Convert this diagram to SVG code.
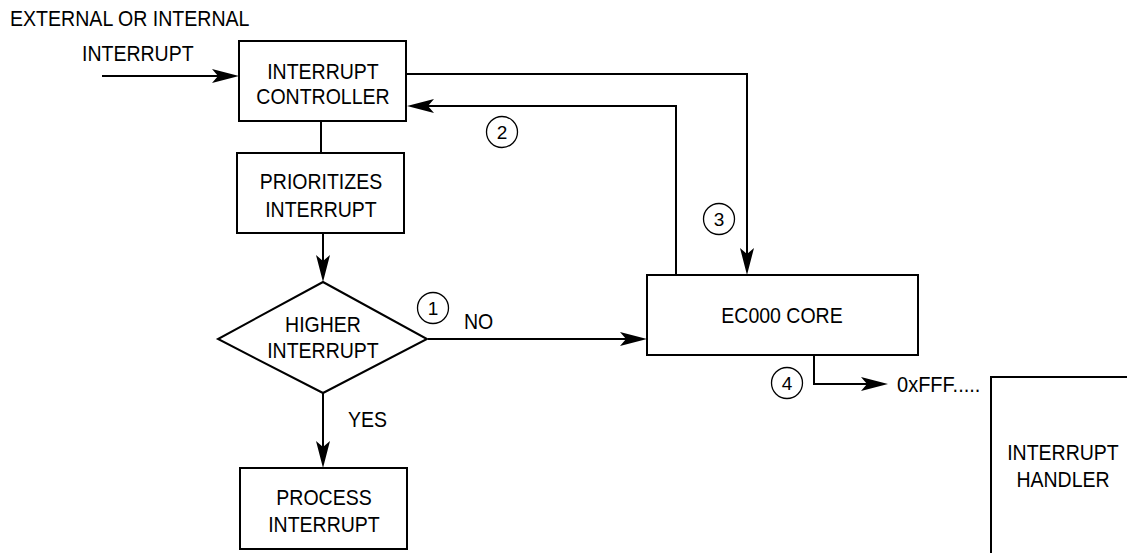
<svg xmlns="http://www.w3.org/2000/svg" width="1127" height="553" viewBox="0 0 1127 553">
<style>
.box{fill:#fff;stroke:#000;stroke-width:2}
.ln{fill:none;stroke:#000;stroke-width:2}
.ah{fill:#000;stroke:none}
.t{font-family:"Liberation Sans",Arial,sans-serif;font-size:22px;fill:#000}
.c{text-anchor:middle}
.cir{fill:none;stroke:#000;stroke-width:1.3}
.n{font-family:"Liberation Sans",Arial,sans-serif;font-size:19px;fill:#000;text-anchor:middle}
</style>
<defs>
<path id="head" d="M0,0 L-27,-7 L-21,0 L-27,7 Z"/>
</defs>
<rect width="1127" height="553" fill="#fff"/>
<g id="connectors">
<line class="ln" x1="102" y1="76" x2="225" y2="76"/>
<use href="#head" class="ah" transform="translate(239,76)"/>
<line class="ln" x1="321" y1="122" x2="321" y2="153"/>
<line class="ln" x1="323" y1="233" x2="323" y2="270"/>
<use href="#head" class="ah" transform="translate(323,282) rotate(90)"/>
<line class="ln" x1="323" y1="393" x2="323" y2="455"/>
<use href="#head" class="ah" transform="translate(323,468) rotate(90)"/>
<line class="ln" x1="428" y1="339" x2="635" y2="339"/>
<use href="#head" class="ah" transform="translate(647,339)"/>
<polyline class="ln" points="406,74 747,74 747,262"/>
<use href="#head" class="ah" transform="translate(747,275) rotate(90)"/>
<polyline class="ln" points="676,275 676,106 420,106"/>
<use href="#head" class="ah" transform="translate(407,106) rotate(180)"/>
<polyline class="ln" points="814,355 814,384 876,384"/>
<use href="#head" class="ah" transform="translate(888,384)"/>
</g>
<g id="labels">
<text class="t" x="10" y="26" textLength="239.5" lengthAdjust="spacingAndGlyphs">EXTERNAL OR INTERNAL</text>
<text class="t" x="82" y="61" textLength="111.6" lengthAdjust="spacingAndGlyphs">INTERRUPT</text>
<text class="t" x="464" y="329" textLength="29.3" lengthAdjust="spacingAndGlyphs">NO</text>
<text class="t" x="348" y="427" textLength="39" lengthAdjust="spacingAndGlyphs">YES</text>
<text class="t" x="897" y="392" textLength="83.4" lengthAdjust="spacingAndGlyphs">0xFFF.....</text>
<circle class="cir" cx="433" cy="308" r="15.5"/><text class="n" x="433" y="315">1</text>
<circle class="cir" cx="502" cy="132" r="15.5"/><text class="n" x="502" y="139">2</text>
<circle class="cir" cx="719" cy="219" r="15.5"/><text class="n" x="719" y="226">3</text>
<circle class="cir" cx="787" cy="383" r="15.5"/><text class="n" x="787" y="390">4</text>
</g>
<g id="controller">
<rect class="box" x="239" y="41" width="167" height="80"/>
<text class="t c" x="323" y="79" textLength="111.6" lengthAdjust="spacingAndGlyphs">INTERRUPT</text>
<text class="t c" x="323" y="104" textLength="133.3" lengthAdjust="spacingAndGlyphs">CONTROLLER</text>
</g>
<g id="prioritizes">
<rect class="box" x="237" y="153" width="167" height="80"/>
<text class="t c" x="321" y="189" textLength="122.4" lengthAdjust="spacingAndGlyphs">PRIORITIZES</text>
<text class="t c" x="321" y="217" textLength="111.6" lengthAdjust="spacingAndGlyphs">INTERRUPT</text>
</g>
<g id="decision">
<polygon class="box" points="323,282 427,339 323,393 218,339"/>
<text class="t c" x="323" y="332" textLength="75.8" lengthAdjust="spacingAndGlyphs">HIGHER</text>
<text class="t c" x="323" y="358" textLength="111.6" lengthAdjust="spacingAndGlyphs">INTERRUPT</text>
</g>
<g id="process">
<rect class="box" x="240" y="468" width="167" height="81"/>
<text class="t c" x="324" y="505" textLength="95.4" lengthAdjust="spacingAndGlyphs">PROCESS</text>
<text class="t c" x="324" y="532" textLength="111.6" lengthAdjust="spacingAndGlyphs">INTERRUPT</text>
</g>
<g id="core">
<rect class="box" x="647" y="275" width="271" height="80"/>
<text class="t c" x="782" y="323" textLength="121.4" lengthAdjust="spacingAndGlyphs">EC000 CORE</text>
</g>
<g id="handler">
<path class="ln" d="M991,553 V377 H1127"/>
<text class="t c" x="1063" y="460" textLength="111.6" lengthAdjust="spacingAndGlyphs">INTERRUPT</text>
<text class="t c" x="1063" y="487" textLength="93.2" lengthAdjust="spacingAndGlyphs">HANDLER</text>
</g>
</svg>
